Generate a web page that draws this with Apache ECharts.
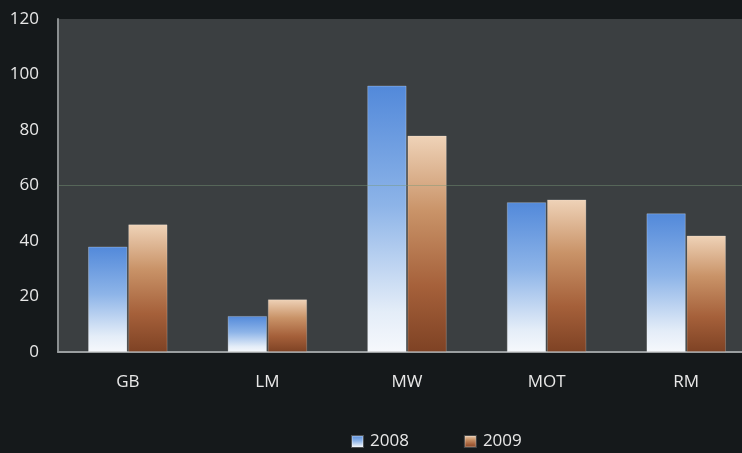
<!DOCTYPE html>
<html><head><meta charset="utf-8">
<script src="https://cdn.jsdelivr.net/npm/echarts@6/dist/echarts.min.js"></script>
<style>html,body{margin:0;padding:0;background:#15191b;overflow:hidden;}#c{width:742px;height:453px;}</style>
</head><body><div id="c"></div>
<script>
const categories = ['GB', 'LM', 'MW', 'MOT', 'RM'];
const values2008 = [38, 13, 96, 54, 50];
const values2009 = [46, 19, 78, 55, 42];
const yTicks = [0, 20, 40, 60, 80, 100, 120];

const chart = echarts.init(document.getElementById('c'));
const blue = new echarts.graphic.LinearGradient(0,0,0,1,[
  {offset:0,color:'#5289da'},{offset:0.45,color:'#8db4e8'},{offset:0.85,color:'#e4edf8'},{offset:1,color:'#f6f8fc'}]);
const brown = new echarts.graphic.LinearGradient(0,0,0,1,[
  {offset:0,color:'#efd3b8'},{offset:0.35,color:'#c99368'},{offset:0.7,color:'#a5603a'},{offset:1,color:'#7e4224'}]);
chart.setOption({
  backgroundColor: '#15191b',
  animation: false,
  textStyle: {fontFamily: 'Open Sans'},
  grid: {left: 58, width: 698, top: 19, height: 333, backgroundColor: '#3b3f41', show: true, borderWidth: 0,
         containLabel: false, outerBoundsMode: 'none'},
  legend: {
    top: 428, left: 346, itemWidth: 11, itemHeight: 11, itemGap: 55,
    icon: 'rect',
    textStyle: {color: '#e8e8e8', fontSize: 17, fontFamily: 'Open Sans', padding: [0,0,0,2]},
    data: ['2008', '2009']
  },
  xAxis: {
    type: 'category', data: categories,
    axisLine: {lineStyle: {color: '#9a9ea0', width: 2}},
    axisTick: {show: false},
    axisLabel: {color: '#e8e8e8', fontSize: 17, margin: 22}
  },
  yAxis: {
    type: 'value', min: yTicks[0], max: yTicks[yTicks.length-1], interval: 20,
    axisLine: {show: true, lineStyle: {color: '#8a8e90', width: 2}},
    axisTick: {show: false},
    splitLine: {show: false},
    axisLabel: {color: '#e8e8e8', fontSize: 17, margin: 19}
  },
  series: [
    {name: '2008', type: 'bar', data: values2008, barGap: '2%', barCategoryGap: '43%',
     itemStyle: {color: blue, borderColor: 'rgba(255,255,255,0.25)', borderWidth: 1},
     markLine: {silent: true, symbol: 'none', label: {show: false},
       lineStyle: {color: 'rgba(120,150,120,0.45)', type: 'solid', width: 1},
       data: [{yAxis: 60}]}},
    {name: '2009', type: 'bar', data: values2009,
     itemStyle: {color: brown, borderColor: 'rgba(255,255,255,0.2)', borderWidth: 1}}
  ]
});
</script></body></html>
